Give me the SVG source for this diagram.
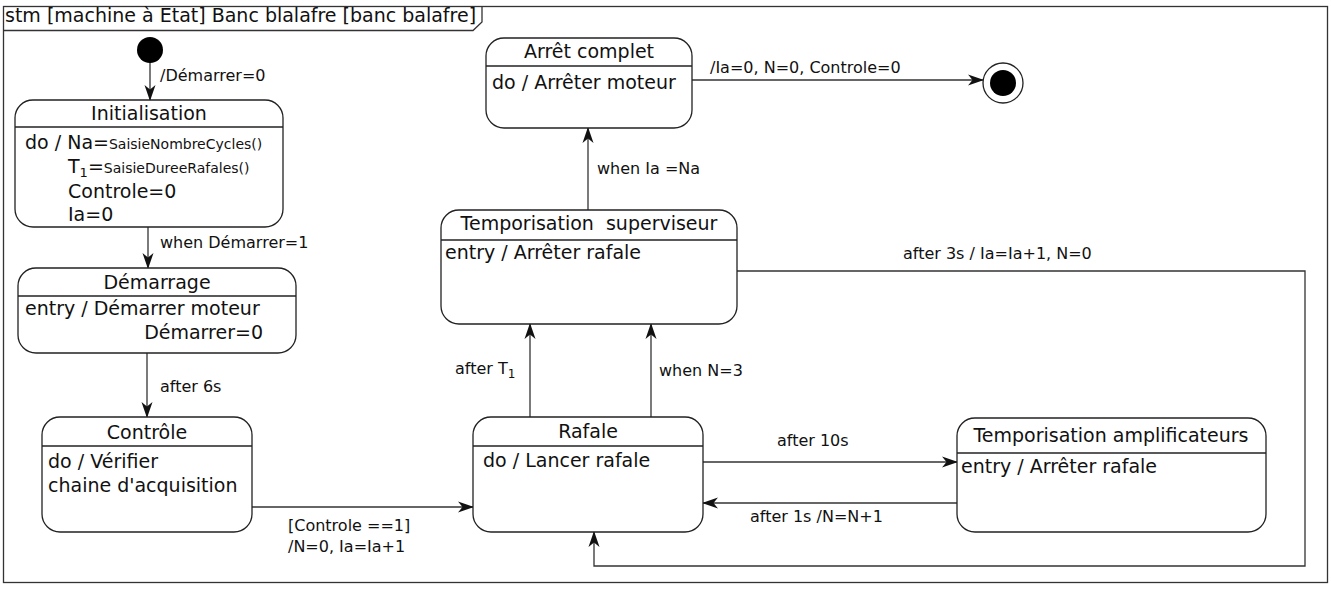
<svg xmlns="http://www.w3.org/2000/svg" width="1331" height="592" viewBox="0 0 1331 592">
<style>
text{font-family:"DejaVu Sans",Verdana,sans-serif;fill:#111}
.t{font-size:19px}
.tc{font-size:19px;text-anchor:middle}
.l{font-size:16px}
.s{font-size:14px}
.box{fill:#fff;stroke:#222;stroke-width:1.3}
.div{stroke:#222;stroke-width:1.3}
.c{fill:none;stroke:#333;stroke-width:1.3}
</style>
<defs>
<marker id="ah" markerWidth="16" markerHeight="12" refX="15" refY="6" orient="auto" markerUnits="userSpaceOnUse">
<path d="M0,0.5 L16,6 L0,11.5 L4.5,6 z" fill="#111"/>
</marker>
</defs>
<rect x="0" y="0" width="1331" height="592" fill="#fff"/>
<g id="frame">
<rect x="3.5" y="6.5" width="1324" height="576" fill="none" stroke="#333" stroke-width="1.3"/>
<path d="M3.5,30.5 L473,30.5 L482,22 L482,6.5" fill="none" stroke="#333" stroke-width="1.3"/>
<text class="t" x="5" y="22">stm [machine à Etat] Banc blalafre [banc balafre]</text>
</g>
<g id="connectors">
<line class="c" x1="150" y1="62" x2="150" y2="100" marker-end="url(#ah)"/>
<text class="l" x="160" y="81">/Démarrer=0</text>
<line class="c" x1="148" y1="227" x2="148" y2="268" marker-end="url(#ah)"/>
<text class="l" x="160" y="248">when Démarrer=1</text>
<line class="c" x1="147" y1="353" x2="147" y2="417" marker-end="url(#ah)"/>
<text class="l" x="160" y="392">after 6s</text>
<line class="c" x1="252" y1="507" x2="473" y2="507" marker-end="url(#ah)"/>
<text class="l" x="288" y="531">[Controle ==1]</text>
<text class="l" x="288" y="552">/N=0, Ia=Ia+1</text>
<line class="c" x1="703" y1="462" x2="957" y2="462" marker-end="url(#ah)"/>
<text class="l" x="777" y="446">after 10s</text>
<line class="c" x1="957" y1="503" x2="703" y2="503" marker-end="url(#ah)"/>
<text class="l" x="750" y="522">after 1s /N=N+1</text>
<line class="c" x1="530" y1="417" x2="530" y2="324" marker-end="url(#ah)"/>
<text class="l" x="455" y="374">after T<tspan font-size="12" dy="4">1</tspan></text>
<line class="c" x1="651" y1="417" x2="651" y2="324" marker-end="url(#ah)"/>
<text class="l" x="659" y="376">when N=3</text>
<line class="c" x1="588" y1="210" x2="588" y2="128" marker-end="url(#ah)"/>
<text class="l" x="597" y="174">when Ia =Na</text>
<line class="c" x1="692" y1="80" x2="983" y2="80" marker-end="url(#ah)"/>
<text class="l" x="710" y="73">/Ia=0, N=0, Controle=0</text>
<path class="c" d="M737,271 L1305,271 L1305,566 L594,566 L594,532" marker-end="url(#ah)"/>
<text class="l" x="903" y="259">after 3s / Ia=Ia+1, N=0</text>
</g>
<g id="initial">
<circle cx="150" cy="50" r="13" fill="#000"/>
</g>
<g id="final">
<circle cx="1003" cy="83" r="20" fill="#fff" stroke="#222" stroke-width="1.3"/>
<circle cx="1003" cy="83" r="13" fill="#000"/>
</g>
<g id="initialisation">
<rect class="box" x="15" y="100" width="268" height="127" rx="18"/>
<line class="div" x1="15" y1="127" x2="283" y2="127"/>
<text class="tc" x="149" y="120">Initialisation</text>
<text class="t" x="25" y="149">do / Na=<tspan class="s">SaisieNombreCycles()</tspan></text>
<text class="t" x="68" y="173">T<tspan font-size="13" dy="4">1</tspan><tspan dy="-4">=</tspan><tspan class="s">SaisieDureeRafales()</tspan></text>
<text class="t" x="68" y="198">Controle=0</text>
<text class="t" x="68" y="221">Ia=0</text>
</g>
<g id="demarrage">
<rect class="box" x="18" y="268" width="278" height="85" rx="18"/>
<line class="div" x1="18" y1="296" x2="296" y2="296"/>
<text class="tc" x="157" y="289">Démarrage</text>
<text class="t" x="25" y="315">entry / Démarrer moteur</text>
<text class="t" x="263" y="339" text-anchor="end">Démarrer=0</text>
</g>
<g id="controle">
<rect class="box" x="42" y="417" width="210" height="115" rx="18"/>
<line class="div" x1="42" y1="446" x2="252" y2="446"/>
<text class="tc" x="147" y="439">Contrôle</text>
<text class="t" x="48" y="468">do / Vérifier</text>
<text class="t" x="48" y="492">chaine d'acquisition</text>
</g>
<g id="rafale">
<rect class="box" x="473" y="417" width="230" height="115" rx="18"/>
<line class="div" x1="473" y1="446" x2="703" y2="446"/>
<text class="tc" x="588" y="438">Rafale</text>
<text class="t" x="483" y="467">do / Lancer rafale</text>
</g>
<g id="temp-ampli">
<rect class="box" x="957" y="418" width="309" height="114" rx="18"/>
<line class="div" x1="957" y1="453" x2="1266" y2="453"/>
<text class="tc" x="1111" y="442">Temporisation amplificateurs</text>
<text class="t" x="961" y="473">entry / Arrêter rafale</text>
</g>
<g id="temp-superviseur">
<rect class="box" x="441" y="210" width="296" height="114" rx="18"/>
<line class="div" x1="441" y1="240" x2="737" y2="240"/>
<text class="tc" x="589" y="230" xml:space="preserve">Temporisation  superviseur</text>
<text class="t" x="445" y="259">entry / Arrêter rafale</text>
</g>
<g id="arret-complet">
<rect class="box" x="486" y="38" width="206" height="90" rx="18"/>
<line class="div" x1="486" y1="66" x2="692" y2="66"/>
<text class="tc" x="589" y="58">Arrêt complet</text>
<text class="t" x="492" y="89">do / Arrêter moteur</text>
</g>
</svg>
